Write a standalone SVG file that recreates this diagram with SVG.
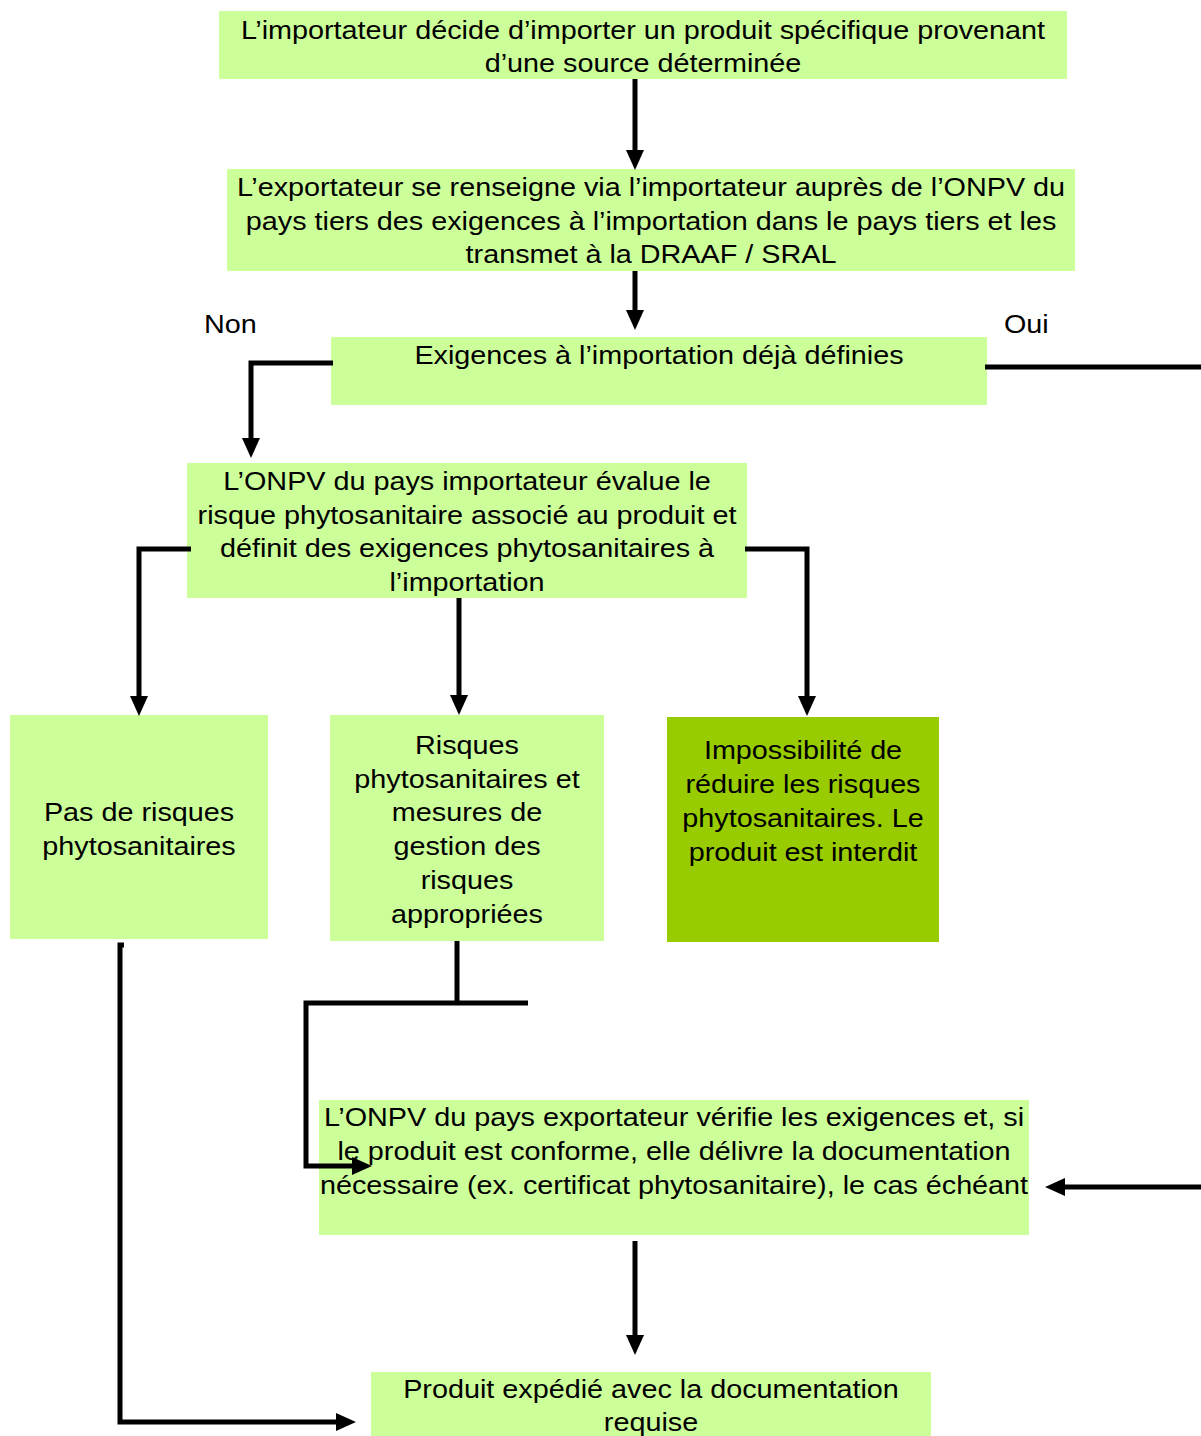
<svg xmlns="http://www.w3.org/2000/svg" width="1201" height="1436" viewBox="0 0 1201 1436">
<style>
.box{fill:#CCFF99;}
.dark{fill:#99CC00;}
text{font-family:"Liberation Sans",Arial,sans-serif;font-size:26px;fill:#000;text-anchor:middle;}
.lbl{text-anchor:start;}
.c{fill:none;stroke:#000;stroke-width:5;stroke-linejoin:miter;}
</style>
<defs>
<marker id="ah" markerUnits="userSpaceOnUse" viewBox="0 0 20 18" refX="10" refY="9" markerWidth="20" markerHeight="18" orient="auto">
<path d="M0,0 L20,9 L0,18 z" fill="#000"/>
</marker>
</defs>
<rect width="1201" height="1436" fill="#fff"/>
<g id="n1"><rect class="box" x="219" y="11" width="848" height="68"/>
<g transform="matrix(1.107,0,0,1,643,0)">
<text x="0" y="39">L’importateur décide d’importer un produit spécifique provenant</text>
<text x="0" y="72">d’une source déterminée</text></g></g>
<g id="n2"><rect class="box" x="227" y="169" width="848" height="102"/>
<g transform="matrix(1.107,0,0,1,651,0)">
<text x="0" y="196">L’exportateur se renseigne via l’importateur auprès de l’ONPV du</text>
<text x="0" y="230">pays tiers des exigences à l’importation dans le pays tiers et les</text>
<text x="0" y="263">transmet à la DRAAF / SRAL</text></g></g>
<g id="n3"><rect class="box" x="331" y="337" width="656" height="68"/>
<g transform="matrix(1.107,0,0,1,659,0)">
<text x="0" y="364">Exigences à l’importation déjà définies</text></g></g>
<g id="n4"><rect class="box" x="187" y="463" width="560" height="135"/>
<g transform="matrix(1.107,0,0,1,467,0)">
<text x="0" y="490">L’ONPV du pays importateur évalue le</text>
<text x="0" y="524">risque phytosanitaire associé au produit et</text>
<text x="0" y="557">définit des exigences phytosanitaires à</text>
<text x="0" y="591">l’importation</text></g></g>
<g id="n5"><rect class="box" x="10" y="715" width="258" height="224"/>
<g transform="matrix(1.107,0,0,1,139,0)">
<text x="0" y="821">Pas de risques</text>
<text x="0" y="855">phytosanitaires</text></g></g>
<g id="n6"><rect class="box" x="330" y="715" width="274" height="226"/>
<g transform="matrix(1.107,0,0,1,467,0)">
<text x="0" y="754">Risques</text>
<text x="0" y="788">phytosanitaires et</text>
<text x="0" y="821">mesures de</text>
<text x="0" y="855">gestion des</text>
<text x="0" y="889">risques</text>
<text x="0" y="923">appropriées</text></g></g>
<g id="n7"><rect class="dark" x="667" y="717" width="272" height="225"/>
<g transform="matrix(1.107,0,0,1,803,0)">
<text x="0" y="759">Impossibilité de</text>
<text x="0" y="793">réduire les risques</text>
<text x="0" y="827">phytosanitaires. Le</text>
<text x="0" y="861">produit est interdit</text></g></g>
<g id="n8"><rect class="box" x="319" y="1100" width="710" height="135"/>
<g transform="matrix(1.107,0,0,1,674,0)">
<text x="0" y="1126">L’ONPV du pays exportateur vérifie les exigences et, si</text>
<text x="0" y="1160">le produit est conforme, elle délivre la documentation</text>
<text x="0" y="1194">nécessaire (ex. certificat phytosanitaire), le cas échéant</text></g></g>
<g id="n9"><rect class="box" x="371" y="1372" width="560" height="70"/>
<g transform="matrix(1.107,0,0,1,651,0)">
<text x="0" y="1398">Produit expédié avec la documentation</text>
<text x="0" y="1431">requise</text></g></g>
<g id="labels">
<text class="lbl" transform="matrix(1.107,0,0,1,204,0)" x="0" y="333">Non</text>
<text class="lbl" transform="matrix(1.107,0,0,1,1004,0)" x="0" y="333">Oui</text>
</g>
<g id="connectors">
<path class="c" d="M635,79 V160" marker-end="url(#ah)"/>
<path class="c" d="M635,271 V320" marker-end="url(#ah)"/>
<path class="c" d="M333,363 H251 V448" marker-end="url(#ah)"/>
<path class="c" d="M985,367 H1201"/>
<path class="c" d="M191,549 H139 V706" marker-end="url(#ah)"/>
<path class="c" d="M459,598 V705" marker-end="url(#ah)"/>
<path class="c" d="M745,549 H807 V706" marker-end="url(#ah)"/>
<path class="c" d="M457,941 V1003"/>
<path class="c" d="M528,1003 H306 V1166 H362" marker-end="url(#ah)"/>
<path class="c" d="M1201,1187 H1055" marker-end="url(#ah)"/>
<path class="c" d="M635,1241 V1345" marker-end="url(#ah)"/>
<path class="c" d="M124,945 H120 V1422 H346" marker-end="url(#ah)"/>
</g>
</svg>
